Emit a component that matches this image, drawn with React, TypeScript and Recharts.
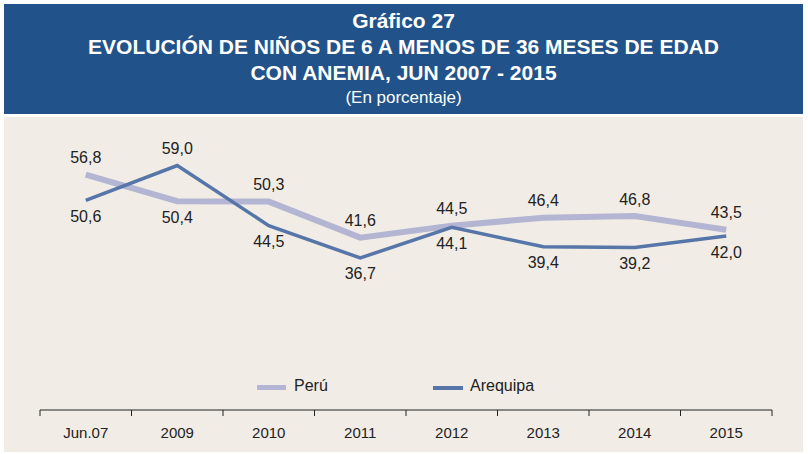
import React from "react";
import { LineChart, Line, XAxis, YAxis, Legend, LabelList } from "recharts";

const categories = ["Jun.07", "2009", "2010", "2011", "2012", "2013", "2014", "2015"];
const peru = [56.8, 50.4, 50.3, 41.6, 44.5, 46.4, 46.8, 43.5];
const arequipa = [50.6, 59.0, 44.5, 36.7, 44.1, 39.4, 39.2, 42.0];

const W = 808;
const H = 454;
const margin = { top: 120, right: 36, bottom: 14, left: 40 };
const band = (W - margin.left - margin.right) / categories.length;

const FONT = '"Liberation Sans", Arial, sans-serif';
const PERU_COLOR = "#b3b5d3";
const AREQ_COLOR = "#5675a8";

const data = categories.map((cat, i) => ({ cat, peru: peru[i], arequipa: arequipa[i] }));

const fmt = (v: number) => v.toFixed(1).replace(".", ",");

const makeLabel = (own: number[], other: number[]) => (props: any) => {
  const { x, y, index, value } = props;
  const above = own[index] >= other[index];
  return (
    <text
      x={x}
      y={y + (above ? -17 : 16)}
      textAnchor="middle"
      dominantBaseline="central"
      fontFamily={FONT}
      fontSize={16}
      fill="#222"
    >
      {fmt(value)}
    </text>
  );
};

const AxisTick = (props: any) => {
  const { x, y, payload, index } = props;
  const last = index === categories.length - 1;
  return (
    <g>
      <line x1={x - band / 2} x2={x - band / 2} y1={y - 6} y2={y} stroke="#222" />
      {last && <line x1={x + band / 2} x2={x + band / 2} y1={y - 6} y2={y} stroke="#222" />}
      <text x={x} y={y + 16} textAnchor="middle" dominantBaseline="central" fontFamily={FONT} fontSize={15} fill="#222">
        {payload.value}
      </text>
    </g>
  );
};

const LegendContent = () => (
  <div style={{ position: "relative", width: W, height: 22, fontFamily: FONT, fontSize: 16, color: "#222" }}>
    <span style={{ position: "absolute", left: 257, top: 9, width: 29, height: 5, background: PERU_COLOR }} />
    <span style={{ position: "absolute", left: 294, top: 1 }}>Perú</span>
    <span style={{ position: "absolute", left: 433, top: 10, width: 30, height: 4, background: AREQ_COLOR }} />
    <span style={{ position: "absolute", left: 470, top: 1 }}>Arequipa</span>
  </div>
);

export default function App() {
  return (
    <div style={{ position: "absolute", left: 0, top: 0, width: W, height: H, background: "#fff", fontFamily: FONT }}>
      <div
        style={{
          position: "absolute",
          left: 4,
          top: 4,
          width: 799,
          height: 110,
          background: "#215289",
          color: "#fff",
          textAlign: "center",
        }}
      >
        <div style={{ fontWeight: "bold", fontSize: 21, lineHeight: "26px", marginTop: 4 }}>Gráfico 27</div>
        <div style={{ fontWeight: "bold", fontSize: 21, lineHeight: "26px" }}>
          EVOLUCIÓN DE NIÑOS DE 6 A MENOS DE 36 MESES DE EDAD
        </div>
        <div style={{ fontWeight: "bold", fontSize: 21, lineHeight: "26px" }}>CON ANEMIA, JUN 2007 - 2015</div>
        <div style={{ fontSize: 17, lineHeight: "24px" }}>(En porcentaje)</div>
      </div>
      <div style={{ position: "absolute", left: 4, top: 117, width: 799, height: 335, background: "#f1ede6" }} />
      <div style={{ position: "absolute", left: 0, top: 0 }}>
        <LineChart width={W} height={H} data={data} margin={margin}>
          <XAxis
            dataKey="cat"
            scale="band"
            height={30}
            tickSize={6}
            tickMargin={0}
            tickLine={false}
            axisLine={{ stroke: "#222", strokeWidth: 1 }}
            tick={<AxisTick />}
            interval={0}
          />
          <YAxis hide domain={[0, 70]} />
          <Legend
            verticalAlign="middle"
            layout="horizontal"
            content={<LegendContent />}
            wrapperStyle={{ position: "absolute", left: 0, top: 376, width: W }}
          />
          <Line
            type="linear"
            dataKey="peru"
            name="Perú"
            stroke={PERU_COLOR}
            strokeWidth={6}
            dot={false}
            isAnimationActive={false}
          >
            <LabelList dataKey="peru" content={makeLabel(peru, arequipa)} />
          </Line>
          <Line
            type="linear"
            dataKey="arequipa"
            name="Arequipa"
            stroke={AREQ_COLOR}
            strokeWidth={3.5}
            dot={false}
            isAnimationActive={false}
          >
            <LabelList dataKey="arequipa" content={makeLabel(arequipa, peru)} />
          </Line>
        </LineChart>
      </div>
    </div>
  );
}
